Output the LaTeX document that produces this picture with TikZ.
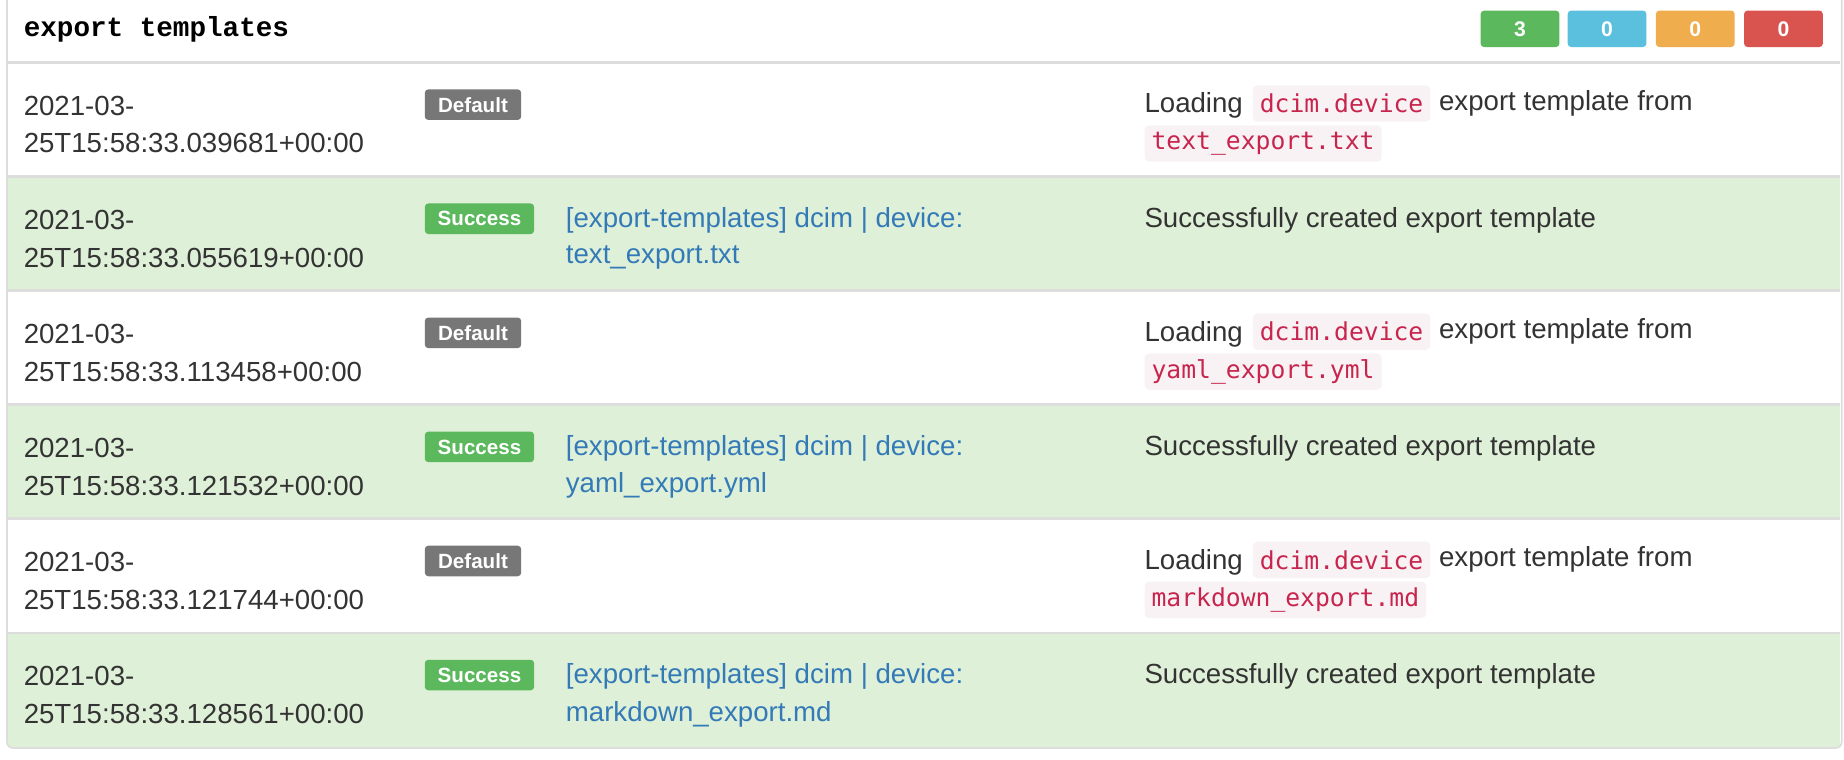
\documentclass[tikz,border=0pt]{standalone}
\usepackage{fontspec}
\setmainfont{Liberation Sans}
\setmonofont{DejaVu Sans Mono}
\newfontfamily\titlefont{Liberation Mono}
\definecolor{txt}{HTML}{333333}
\definecolor{lnk}{HTML}{337AB7}
\definecolor{okbg}{HTML}{DFF0D8}
\definecolor{sep}{HTML}{DDDDDD}
\definecolor{bgreen}{HTML}{5CB85C}
\definecolor{bblue}{HTML}{5BC0DE}
\definecolor{borange}{HTML}{F0AD4E}
\definecolor{bred}{HTML}{D9534F}
\definecolor{bgray}{HTML}{777777}
\definecolor{codefg}{HTML}{C7254E}
\definecolor{codebg}{HTML}{F9F2F4}
\begin{document}
\begin{tikzpicture}[x=1pt,y=-1pt,
  body/.style={anchor=west,inner sep=0pt,yshift=-2pt,text=txt,font=\fontsize{23.5}{28}\selectfont},
  link/.style={body,text=lnk},
  lbl/.style={anchor=west,rounded corners=3pt,inner sep=0pt,minimum height=26pt,text=white,font=\bfseries\fontsize{17.5}{18}\selectfont,text depth=0pt},
  cnt/.style={rounded corners=3pt,minimum width=67pt,minimum height=31pt,inner sep=0pt,text=white,font=\bfseries\fontsize{18}{20}\selectfont},
  code/.style={anchor=west,fill=codebg,rounded corners=4pt,text=codefg,inner xsep=6pt,minimum height=31pt,font=\ttfamily\fontsize{21}{24}\selectfont}]
\useasboundingbox (0,0) rectangle (1568,646);
\fill[white] (0,0) rectangle (1568,646);
\foreach \t/\c in {53/white,150/okbg,247/white,344/okbg,441/white,538/okbg}{
  \fill[\c] (7,\t) rectangle (1565,\t+97);
  \draw[sep,line width=2pt] (7,\t) -- (1565,\t);
}
\draw[sep,line width=1.5pt,rounded corners=5pt] (6,-5) -- (6,636) -- (1566,636) -- (1566,-5);
\node[anchor=west,inner sep=0pt,font=\titlefont\bfseries\fontsize{23.5}{26}\selectfont] (title) at (20,25) {export templates};
\node[cnt,fill=bgreen] (c1) at (1292.5,24.5) {3};
\node[cnt,fill=bblue] (c2) at (1366.5,24.5) {0};
\node[cnt,fill=borange] (c3) at (1441.5,24.5) {0};
\node[cnt,fill=bred] (c4) at (1516.5,24.5) {0};
% row 1
\node[body] (t1a) at (20,88) {2021-03-};
\node[body] (t1b) at (20,120) {25T15:58:33.039681+00:00};
\node[lbl,fill=bgray,minimum width=82pt] (b1) at (361,89) {Default};
\node[body] (m1a) at (973,88) {Loading};
\node[code] (k1a) at ([xshift=8pt,yshift=2pt]m1a.east) {dcim.device};
\node[body] (m1b) at ([xshift=7pt,yshift=2pt]k1a.east) {export template from};
\node[code] (k1b) at (973,122) {text\_export.txt};
% row 2
\node[body] (t2a) at (20,185) {2021-03-};
\node[body] (t2b) at (20,217) {25T15:58:33.055619+00:00};
\node[lbl,fill=bgreen,minimum width=93pt] (b2) at (361,186) {Success};
\node[link] (l2a) at (481,185) {[export-templates] dcim | device:};
\node[link] (l2b) at (481,217) {text\_export.txt};
\node[body] (m2) at (973,185) {Successfully created export template};
% row 3
\node[body] (t3a) at (20,282) {2021-03-};
\node[body] (t3b) at (20,314) {25T15:58:33.113458+00:00};
\node[lbl,fill=bgray,minimum width=82pt] (b3) at (361,283) {Default};
\node[body] (m3a) at (973,282) {Loading};
\node[code] (k3a) at ([xshift=8pt,yshift=2pt]m3a.east) {dcim.device};
\node[body] (m3b) at ([xshift=7pt,yshift=2pt]k3a.east) {export template from};
\node[code] (k3b) at (973,316) {yaml\_export.yml};
% row 4
\node[body] (t4a) at (20,379) {2021-03-};
\node[body] (t4b) at (20,411) {25T15:58:33.121532+00:00};
\node[lbl,fill=bgreen,minimum width=93pt] (b4) at (361,380) {Success};
\node[link] (l4a) at (481,379) {[export-templates] dcim | device:};
\node[link] (l4b) at (481,411) {yaml\_export.yml};
\node[body] (m4) at (973,379) {Successfully created export template};
% row 5
\node[body] (t5a) at (20,476) {2021-03-};
\node[body] (t5b) at (20,508) {25T15:58:33.121744+00:00};
\node[lbl,fill=bgray,minimum width=82pt] (b5) at (361,477) {Default};
\node[body] (m5a) at (973,476) {Loading};
\node[code] (k5a) at ([xshift=8pt,yshift=2pt]m5a.east) {dcim.device};
\node[body] (m5b) at ([xshift=7pt,yshift=2pt]k5a.east) {export template from};
\node[code] (k5b) at (973,510) {markdown\_export.md};
% row 6
\node[body] (t6a) at (20,573) {2021-03-};
\node[body] (t6b) at (20,605) {25T15:58:33.128561+00:00};
\node[lbl,fill=bgreen,minimum width=93pt] (b6) at (361,574) {Success};
\node[link] (l6a) at (481,573) {[export-templates] dcim | device:};
\node[link] (l6b) at (481,605) {markdown\_export.md};
\node[body] (m6) at (973,573) {Successfully created export template};
\end{tikzpicture}
\end{document}
